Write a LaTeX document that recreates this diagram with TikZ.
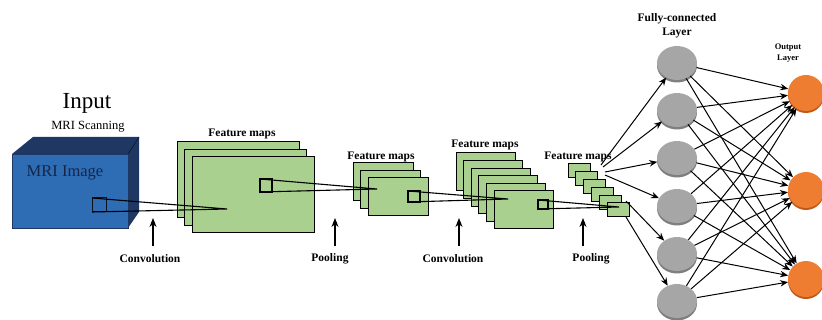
\documentclass[tikz,border=0pt]{standalone}
\usepackage{fontspec}
\setmainfont{Liberation Serif}
\usetikzlibrary{arrows.meta,shapes.geometric,shadows}
\definecolor{cubeblue}{HTML}{2E6DB4}
\definecolor{cubedark}{HTML}{1F3763}
\definecolor{cubetext}{HTML}{13264A}
\definecolor{fmgreen}{HTML}{A9D08E}
\definecolor{fcgray}{HTML}{A6A6A6}
\definecolor{fcshadow}{HTML}{7F7F7F}
\definecolor{outorange}{HTML}{EE7D31}
\definecolor{outshadow}{HTML}{C0581A}
\begin{document}
\begin{tikzpicture}[x=1pt,y=-1pt,
  fmap/.style={draw=black,line width=1pt,fill=fmgreen},
  lbl/.style={font=\bfseries\fontsize{11.5}{13}\selectfont,inner sep=0pt},
  smalllbl/.style={font=\bfseries\fontsize{8.5}{9.5}\selectfont,inner sep=0pt},
  funnel/.style={draw=black,line width=1.1pt},
  uparrow/.style={-{Stealth[length=9pt,width=7pt]},line width=1.1pt},
  fcnode/.style={ellipse,minimum width=40pt,minimum height=34pt,inner sep=0pt,fill=fcgray,
    drop shadow={shadow xshift=0pt,shadow yshift=-2.5pt,fill=fcshadow,opacity=1}},
  outnode/.style={circle,minimum size=36pt,inner sep=0pt,fill=outorange,
    drop shadow={shadow xshift=0pt,shadow yshift=-2pt,fill=outshadow,opacity=1}},
  conn/.style={-{Stealth[length=8pt,width=6.5pt]},line width=1pt}
]
\useasboundingbox (0,0) rectangle (822,320);
\clip (0,0) rectangle (822,320);

% Input cube
\node[font=\fontsize{23}{25}\selectfont,inner sep=0pt] (inputlbl) at (87,103) {Input};
\node[font=\fontsize{12.5}{14}\selectfont,inner sep=0pt] (scanlbl) at (88,127) {MRI Scanning};
\fill[cubedark] (12,154) -- (33,137) -- (139,137) -- (139,212) -- (128,228) -- (128,154) -- cycle;
\draw[black!60!cubedark,line width=0.6pt] (128,154) -- (139,137);
\fill[cubeblue] (12,154) rectangle (128,228);
\draw[cubedark,line width=0.8pt] (12,154) rectangle (128,228);
\node[font=\fontsize{16.5}{18}\selectfont,text=cubetext,inner sep=0pt] (mrilbl) at (65,173) {MRI Image};

% Feature maps 1
\foreach \i in {0,1,2} {
  \draw[fmap] (177+7.5*\i,142+7.5*\i) rectangle ++(122,76);
}
\node[lbl] (fm1lbl) at (242,134) {Feature maps};

% Feature maps 2
\foreach \i in {0,1,2} {
  \draw[fmap] (353+7.5*\i,163+7.5*\i) rectangle ++(60,38);
}
\node[lbl] (fm2lbl) at (381,157) {Feature maps};

% Feature maps 3
\foreach \i in {0,...,5} {
  \draw[fmap] (456+7.6*\i,153+7.6*\i) rectangle ++(59,38);
}
\node[lbl] (fm3lbl) at (485,145) {Feature maps};

% Feature maps 4
\foreach \i in {0,...,5} {
  \draw[fmap] (568+7.8*\i,164+7.8*\i) rectangle ++(22,14);
}
\node[lbl] (fm4lbl) at (578,157) {Feature maps};

% funnels
\coordinate (c0a) at (92,198); \coordinate (c0b) at (92,212);
\coordinate (c1) at (227,209);
\draw[line width=1pt,draw=black!70!cubedark] (92,198) rectangle (106,212);
\draw[funnel] (c0a) -- (c1) (c0b) -- (c1);

\coordinate (b1a) at (260,179); \coordinate (b1b) at (260,192);
\coordinate (c2) at (377,189);
\draw[funnel] (260,179) rectangle (272,192);
\draw[funnel] (b1a) -- (c2) (b1b) -- (c2);

\coordinate (b2a) at (408,191); \coordinate (b2b) at (408,202);
\coordinate (c3) at (508,199);
\draw[funnel] (408,191) rectangle (420,202);
\draw[funnel] (b2a) -- (c3) (b2b) -- (c3);

\coordinate (b3a) at (538,200); \coordinate (b3b) at (538,209);
\coordinate (c4) at (619,207);
\draw[funnel] (538,200) rectangle (548,209);
\draw[funnel] (b3a) -- (c4) (b3b) -- (c4);

% up arrows and labels
\foreach \x/\lx/\t [count=\k] in {153/150/Convolution,335/330/Pooling,459/453/Convolution,583/591/Pooling} {
  \coordinate (ua\k) at (\x,246);
  \coordinate (ub\k) at (\x,218);
  \draw[uparrow] (ua\k) -- (ub\k);
  \node[lbl] (op\k) at (\lx,259) {\t};
}

% fully connected layer
\node[lbl,align=center] (fclbl) at (677,26) {Fully-connected\\[1pt]Layer};
\foreach \y [count=\k] in {63,110,158,206,254,301} {
  \node[fcnode] (fc\k) at (677,\y) {};
}
\node[smalllbl,align=center] (outlbl) at (788,53) {Output\\[1pt]Layer};
\foreach \y [count=\k] in {93,190,279} {
  \node[outnode] (out\k) at (806,\y) {};
}

% arrows feature maps -> FC
\coordinate (s1) at (601,165);
\coordinate (s2) at (603,167);
\coordinate (s3) at (605,172);
\coordinate (s4) at (605,175);
\coordinate (s5) at (626,201);
\coordinate (s6) at (626,217);
\foreach \k in {1,...,6} {
  \draw[conn] (s\k) -- (fc\k);
}

% FC -> output
\foreach \i in {1,...,6} {
  \foreach \j in {1,2,3} {
    \draw[conn] (fc\i) -- (out\j);
  }
}
\end{tikzpicture}
\end{document}
